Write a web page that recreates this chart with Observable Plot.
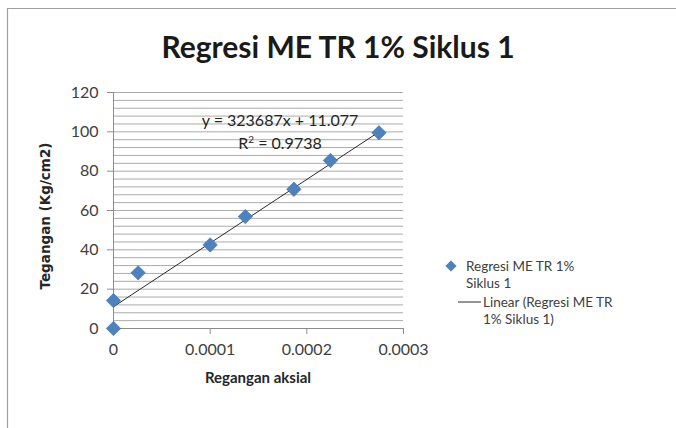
<!DOCTYPE html>
<html>
<head>
<meta charset="utf-8">
<script src="https://cdn.jsdelivr.net/npm/d3@7"></script>
<script src="https://cdn.jsdelivr.net/npm/@observablehq/plot@0.6"></script>
<style>
  html, body { margin: 0; padding: 0; background: #fff; }
  #chart { width: 676px; height: 428px; overflow: hidden; }
</style>
</head>
<body>
<div id="chart"></div>
<script>
// ---- data ----
const strain = [0, 0, 0.0000255, 0.0001, 0.0001364, 0.0001866, 0.0002244, 0.0002746];
const stress = [0, 14.2, 28.3, 42.5, 56.9, 70.8, 85.4, 99.5];
const slope = 323687;
const intercept = 11.077;
const rSquared = "0.9738";
const xTicks = [0, 0.0001, 0.0002, 0.0003];
const xTickLabels = ["0", "0.0001", "0.0002", "0.0003"];
const yTicks = [0, 20, 40, 60, 80, 100, 120];
const yMinorStep = 4;
const title = "Regresi ME TR 1% Siklus 1";
const xTitle = "Regangan aksial";
const yTitle = "Tegangan (Kg/cm2)";
const seriesName = ["Regresi ME TR 1%", "Siklus 1"];
const trendName = ["Linear (Regresi ME TR", "1% Siklus 1)"];

const points = strain.map((x, i) => ({x, y: stress[i]}));
const xs = [d3.min(strain), d3.max(strain)];
const trend = xs.map(x => ({x, y: slope * x + intercept}));
const yGrid = d3.range(yTicks[0], yTicks[yTicks.length - 1] + 0.001, yMinorStep);

const blue = "#4f81bd";
const font = "Lato, 'Open Sans', sans-serif";

const chart = Plot.plot({
  width: 676,
  height: 428,
  marginLeft: 113,
  marginRight: 273,
  marginTop: 92,
  marginBottom: 100,
  style: {fontFamily: font, fontSize: "16px", color: "#404040", background: "transparent"},
  x: {type: "linear", domain: [0, 0.0003]},
  y: {type: "linear", domain: [0, 120]},
  marks: [
    Plot.ruleY(yGrid, {stroke: "#ababab", strokeWidth: 1}),
    Plot.ruleX([0], {stroke: "#8c8c8c"}),
    Plot.ruleY([0], {stroke: "#8c8c8c"}),
    Plot.axisY({ticks: yTicks, tickSize: 6, tickPadding: 9, stroke: "#8c8c8c", fill: "#404040", fontSize: 16, label: null}),
    Plot.axisX({ticks: xTicks, tickFormat: (d, i) => xTickLabels[i], tickSize: 6, tickPadding: 9, stroke: "#8c8c8c", fill: "#404040", fontSize: 16, label: null}),
    Plot.line(trend, {x: "x", y: "y", stroke: "#2b2b2b", strokeWidth: 1}),
    Plot.dot(points, {x: "x", y: "y", symbol: "diamond2", r: 6.5, fill: blue, stroke: "#3f6fa8", strokeWidth: 0.6})
  ]
});

const svg = d3.select(chart);
// frame
svg.insert("path", ":first-child")
  .attr("d", "M7.5,428 L7.5,8.5 L676,8.5")
  .attr("fill", "none").attr("stroke", "#a0a0a0").attr("stroke-width", 1.2);

const ann = svg.append("g").attr("text-anchor", "middle").attr("font-family", font);

ann.append("text").attr("x", 338).attr("y", 58)
  .attr("font-weight", "bold").attr("font-size", 30)
  .attr("fill", "#1a1a1a").text(title);

ann.append("text").attr("transform", "translate(50,216) rotate(-90)")
  .attr("font-family", "'DejaVu Sans', sans-serif").attr("font-weight", "bold").attr("font-size", 13.5)
  .attr("fill", "#262626").text(yTitle);

ann.append("text").attr("x", 258).attr("y", 383)
  .attr("font-weight", "bold").attr("font-size", 15)
  .attr("fill", "#262626").text(xTitle);

// equation
ann.append("text").attr("x", 280).attr("y", 126).attr("font-size", 16).attr("fill", "#262626")
  .text(`y = ${slope}x + ${intercept}`);
const r2 = ann.append("text").attr("x", 280).attr("y", 149).attr("font-size", 16).attr("fill", "#262626");
r2.append("tspan").text("R");
r2.append("tspan").attr("dy", -6).attr("font-size", 10).text("2");
r2.append("tspan").attr("dy", 6).text(` = ${rSquared}`);

// legend
const lg = svg.append("g").attr("font-family", font).attr("font-size", 13.5).attr("fill", "#404040").attr("text-anchor", "start");
lg.append("path").attr("d", d3.symbol(d3.symbolDiamond2, 70)()).attr("transform", "translate(451,266)")
  .attr("fill", blue).attr("stroke", "#3f6fa8").attr("stroke-width", 0.6);
seriesName.forEach((t, i) => lg.append("text").attr("x", 466).attr("y", 271 + i * 17).text(t));
lg.append("line").attr("x1", 458).attr("x2", 481).attr("y1", 302).attr("y2", 302).attr("stroke", "#2b2b2b");
trendName.forEach((t, i) => lg.append("text").attr("x", 483).attr("y", 307 + i * 17).text(t));

document.getElementById("chart").appendChild(chart);
</script>
</body>
</html>
